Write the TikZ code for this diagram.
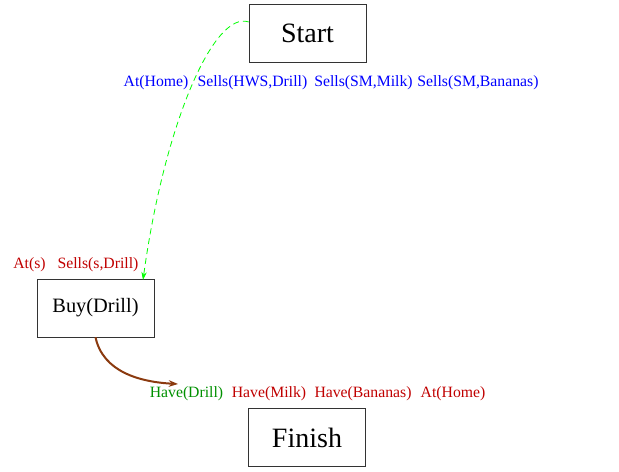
\documentclass[tikz,border=0pt]{standalone}
\usepackage{fontspec}
\setmainfont{Liberation Serif}
\usepackage{xcolor}
\usepackage{tikz}
\usetikzlibrary{
  arrows.meta,
  positioning,
  calc
}
\definecolor{precond}{HTML}{0000FF}
\definecolor{open}{HTML}{C00000}
\definecolor{done}{HTML}{009000}
\definecolor{causal}{HTML}{00FF00}
\definecolor{order}{HTML}{8B3A0F}

\tikzset{
  step box/.style={draw=black!80, thin, minimum width=87.75pt, minimum height=43.5pt, inner sep=0pt},
  lit/.style={inner sep=0pt, font=\fontsize{11.8}{13}\selectfont}
}

\begin{document}
\begin{tikzpicture}[x=0.75pt, y=-0.75pt]
  \useasboundingbox (0,0) rectangle (619,472);
  % steps
  \node[step box, font=\fontsize{21}{24}\selectfont] (start) at (307.5,33) {Start};
  \node[step box, font=\fontsize{15.3}{18}\selectfont] (buy) at (95.5,308) {Buy(Drill)};
  \node[step box, font=\fontsize{21}{24}\selectfont] (finish) at (307,437.5) {Finish};
  % effects of Start
  \foreach \x/\nm/\lab in {156/home/At(Home), 252.5/hws/{Sells(HWS,Drill)},
                           363.5/milk/{Sells(SM,Milk)}, 478/ban/{Sells(SM,Bananas)}} {
    \node[lit, text=precond] (eff-\nm) at (\x,83) {\lab};
  }
  % preconditions of Buy(Drill)
  \foreach \x/\nm/\lab in {29.5/ats/At(s), 98/sells/{Sells(s,Drill)}} {
    \node[lit, text=open] (pre-\nm) at (\x,265) {\lab};
  }
  % preconditions of Finish
  \node[lit, text=done] (goal-drill) at (186.5,394) {Have(Drill)};
  \foreach \x/\nm/\lab in {269/milk/Have(Milk), 363/ban/Have(Bananas), 453/home/At(Home)} {
    \node[lit, text=open] (goal-\nm) at (\x,394) {\lab};
  }
  % links
  \coordinate (buy-in) at (143,280);
  \coordinate (drill-in) at (178,384);
  \draw[causal, line width=0.6pt, dash pattern=on 4.5pt off 3pt, -{Stealth[length=6pt,width=4pt]}]
    ($(start.west)+(0,-11)$) .. controls (215,10) and (165,120) .. (buy-in);
  \draw[order, line width=1.5pt, -{Stealth[length=7pt,width=5pt]}]
    (buy.south) .. controls (103,372) and (140,382) .. (drill-in);
\end{tikzpicture}
\end{document}
